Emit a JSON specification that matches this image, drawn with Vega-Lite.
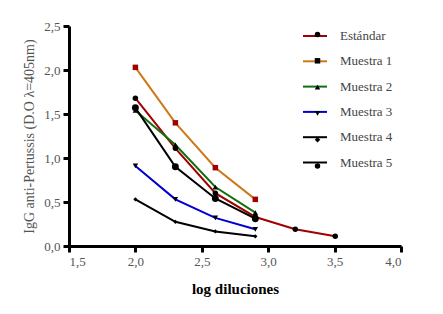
{
  "$schema": "https://vega.github.io/schema/vega-lite/v6.json",
  "width": 332,
  "height": 220,
  "autosize": {"type": "none"},
  "padding": {"left": 69, "top": 26, "right": 42, "bottom": 68},
  "background": "white",
  "data": {"values": [
    {"series": "Estándar", "x": 2.0, "y": 1.68},
    {"series": "Estándar", "x": 2.301, "y": 1.11},
    {"series": "Estándar", "x": 2.602, "y": 0.60},
    {"series": "Estándar", "x": 2.903, "y": 0.33},
    {"series": "Estándar", "x": 3.204, "y": 0.19},
    {"series": "Estándar", "x": 3.505, "y": 0.11},
    {"series": "Muestra 1", "x": 2.0, "y": 2.03},
    {"series": "Muestra 1", "x": 2.301, "y": 1.40},
    {"series": "Muestra 1", "x": 2.602, "y": 0.89},
    {"series": "Muestra 1", "x": 2.903, "y": 0.53},
    {"series": "Muestra 2", "x": 2.0, "y": 1.54},
    {"series": "Muestra 2", "x": 2.301, "y": 1.15},
    {"series": "Muestra 2", "x": 2.602, "y": 0.67},
    {"series": "Muestra 2", "x": 2.903, "y": 0.38},
    {"series": "Muestra 3", "x": 2.0, "y": 0.91},
    {"series": "Muestra 3", "x": 2.301, "y": 0.53},
    {"series": "Muestra 3", "x": 2.602, "y": 0.32},
    {"series": "Muestra 3", "x": 2.903, "y": 0.19},
    {"series": "Muestra 4", "x": 2.0, "y": 0.53},
    {"series": "Muestra 4", "x": 2.301, "y": 0.275},
    {"series": "Muestra 4", "x": 2.602, "y": 0.165},
    {"series": "Muestra 4", "x": 2.903, "y": 0.11},
    {"series": "Muestra 5", "x": 2.0, "y": 1.57},
    {"series": "Muestra 5", "x": 2.301, "y": 0.90},
    {"series": "Muestra 5", "x": 2.602, "y": 0.54},
    {"series": "Muestra 5", "x": 2.903, "y": 0.31}
  ]},
  "encoding": {
    "x": {
      "field": "x", "type": "quantitative",
      "scale": {"domain": [1.5, 4.0], "nice": false, "zero": false},
      "axis": {
        "title": "log diluciones",
        "values": [1.5, 2.0, 2.5, 3.0, 3.5, 4.0],
        "labelExpr": "replace(format(datum.value, '.1f'), '.', ',')",
        "titleFontWeight": "bold",
        "titleFontSize": 15,
        "titleColor": "black",
        "titleBaseline": "alphabetic",
        "titleY": 47
      }
    },
    "y": {
      "field": "y", "type": "quantitative",
      "scale": {"domain": [0, 2.5], "nice": false},
      "axis": {
        "title": "IgG anti-Pertussis (D.O λ=405nm)",
        "values": [0, 0.5, 1.0, 1.5, 2.0, 2.5],
        "labelExpr": "replace(format(datum.value, '.1f'), '.', ',')",
        "titleFontWeight": "normal",
        "titleFontSize": 14,
        "titleColor": "#555555",
        "titleBaseline": "alphabetic",
        "titleAlign": "center",
        "titleAngle": -90,
        "titleX": -36,
        "titleY": 110
      }
    }
  },
  "layer": [
    {
      "mark": {"type": "line", "strokeWidth": 2},
      "encoding": {
        "color": {
          "field": "series", "type": "nominal",
          "scale": {
            "domain": ["Estándar", "Muestra 1", "Muestra 2", "Muestra 3", "Muestra 4", "Muestra 5"],
            "range": ["#a00000", "#d07818", "#107010", "#0000d0", "#000000", "#000000"]
          },
          "legend": {
            "title": null,
            "orient": "none",
            "legendX": 233,
            "legendY": -3,
            "padding": 0,
            "symbolType": "stroke",
            "symbolSize": 576,
            "symbolStrokeWidth": 2,
            "rowPadding": 5.3,
            "labelOffset": 12,
            "labelFontSize": 13,
            "labelColor": "#444444"
          }
        }
      }
    },
    {
      "mark": {"type": "point", "filled": true, "opacity": 1},
      "encoding": {
        "shape": {
          "field": "series", "type": "nominal",
          "scale": {
            "domain": ["Estándar", "Muestra 1", "Muestra 2", "Muestra 3", "Muestra 4", "Muestra 5"],
            "range": ["circle", "square", "triangle-up", "triangle-down", "diamond", "circle"]
          },
          "legend": {
            "title": null,
            "orient": "none",
            "legendX": 242,
            "legendY": 2,
            "padding": 0,
            "symbolSize": 30,
            "symbolFillColor": "black",
            "symbolStrokeColor": "black",
            "symbolStrokeWidth": 0,
            "rowPadding": 12.3,
            "labelFontSize": 13,
            "labelExpr": "''",
            "labelOpacity": 0,
            "encode": {
              "symbols": {
                "update": {
                  "fill": [
                    {"test": "datum.label === 'Muestra 1'", "value": "#a00000"},
                    {"value": "black"}
                  ]
                }
              }
            }
          }
        },
        "color": {
          "condition": {"test": "datum.series === 'Muestra 1'", "value": "#a00000"},
          "value": "black"
        },
        "size": {
          "condition": [
            {"test": "datum.series === 'Muestra 5'", "value": 48},
            {"test": "datum.series === 'Muestra 4'", "value": 18}
          ],
          "value": 30
        }
      }
    }
  ],
  "resolve": {
    "legend": {"color": "independent", "shape": "independent"}
  },
  "config": {
    "font": "Liberation Serif, Times New Roman, serif",
    "view": {"stroke": null},
    "axis": {
      "grid": false,
      "domainColor": "black",
      "domainWidth": 3,
      "tickColor": "black",
      "tickWidth": 3,
      "tickSize": 6,
      "labelFont": "Liberation Serif, Times New Roman, serif",
      "labelFontSize": 13,
      "labelColor": "#555555",
      "labelPadding": 3,
      "titleFont": "Liberation Serif, Times New Roman, serif"
    },
    "legend": {
      "labelFont": "Liberation Serif, Times New Roman, serif"
    }
  }
}
